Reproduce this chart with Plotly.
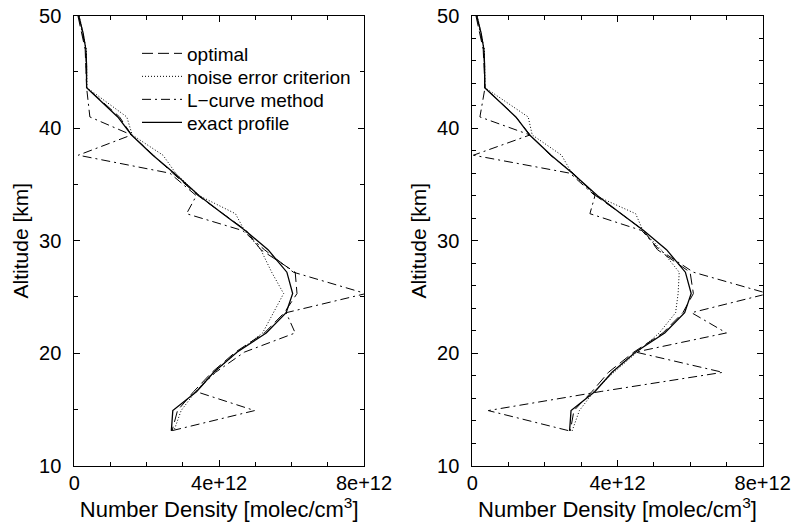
import plotly.graph_objects as go

# Altitude grids [km]
alt_exact = [50, 48.5, 47, 45.5, 43.6, 41.0, 39.4, 37.6, 36.0, 34.0, 32.4, 30.9,
             29.2, 27.2, 25.3, 23.6, 21.8, 20.1, 18.3, 16.6, 14.9, 13.1]
alt_ret = [50, 47, 43.6, 41.0, 39.4, 37.6, 36.0, 34.0, 32.4, 30.9, 29.2, 27.2,
           25.3, 23.6, 21.8, 20.1, 18.3, 16.6, 14.9, 13.1]

# Number density in units of 1e12 molec/cm^3
exact = [0.12, 0.24, 0.32, 0.34, 0.34, 1.20, 1.58, 2.17, 2.76, 3.45, 4.10, 4.72,
         5.35, 5.87, 6.03, 5.85, 5.30, 4.50, 3.85, 3.38, 2.72, 2.68]

# Left panel
opt_L = [0.10, 0.30, 0.34, 1.25, 1.58, 2.18, 2.72, 3.42, 4.10, 4.75, 5.15, 6.10,
         6.15, 5.80, 5.25, 4.45, 3.80, 3.30, 2.85, 2.70]
noise_L = [0.14, 0.33, 0.35, 1.45, 1.60, 2.45, 2.80, 3.45, 4.45, 4.70, 5.15, 5.45,
           5.78, 5.50, 5.20, 4.50, 3.85, 3.35, 2.95, 2.75]
lcurve_L = [0.12, 0.32, 0.34, 0.43, 1.58, 0.11, 2.64, 3.37, 3.10, 4.65, 5.25, 6.05,
            8.05, 5.85, 6.10, 4.70, 3.90, 3.35, 4.98, 2.68]

# Right panel
opt_R = [0.10, 0.30, 0.35, 1.20, 1.59, 2.15, 2.78, 3.40, 4.10, 4.72, 5.10, 6.00,
         6.09, 5.80, 5.25, 4.45, 3.75, 3.30, 2.80, 2.70]
noise_R = [0.14, 0.33, 0.35, 1.54, 1.65, 2.46, 2.74, 3.40, 4.50, 4.70, 5.20, 5.70,
           5.67, 5.60, 5.15, 4.55, 3.90, 3.35, 2.95, 2.75]
lcurve_R = [0.12, 0.32, 0.35, 0.21, 1.59, 0.03, 2.69, 3.38, 3.24, 4.67, 5.15, 6.09,
            8.15, 6.04, 7.00, 4.50, 6.90, 3.55, 0.44, 2.67]

names = ["optimal", "noise error criterion", "L\u2212curve method", "exact profile"]
dashes = ["11px,5px", "1px,2px", "9px,4px,2px,4px", "solid"]
widths = [1, 1, 1, 1.3]
legend_ids = ["legend", "legend2", "legend3", "legend4"]
legend_rows_px = [53.5, 76.5, 99.5, 122.5]

FONT = "Liberation Sans, Arial, Helvetica, sans-serif"
E12 = 1e12
W, H = 792, 523

fig = go.Figure()
panels = [("x", "y", [opt_L, noise_L, lcurve_L], True),
          ("x2", "y2", [opt_R, noise_R, lcurve_R], False)]
for xa, ya, ret, show in panels:
    series = ret + [exact]
    alts = [alt_ret, alt_ret, alt_ret, alt_exact]
    for i in range(4):
        fig.add_trace(go.Scatter(
            x=[v * E12 for v in series[i]], y=alts[i], mode="lines",
            name=names[i], showlegend=show, legend=legend_ids[i],
            xaxis=xa, yaxis=ya,
            line=dict(color="black", width=widths[i], dash=dashes[i]),
        ))

common_x = dict(range=[0, 8e12], tickvals=[0, 4e12, 8e12],
                ticktext=["0", "4e+12", "8e+12"], ticks="inside", ticklen=6,
                tickcolor="black", showline=True, linecolor="black", linewidth=1,
                mirror="allticks", showgrid=False, zeroline=False, automargin=False,
                ticklabeloverflow="allow", ticklabelstandoff=-1,
                tickfont=dict(size=20, color="black", family=FONT),
                title=dict(text="Number Density [molec/cm<sup>3</sup>]",
                           font=dict(size=22, color="black", family=FONT), standoff=2),
                minor=dict(dtick=1e12, ticks="inside", ticklen=4, tickcolor="black"))
common_y = dict(range=[10, 50], tickvals=[10, 20, 30, 40, 50], ticks="inside",
                ticklen=6, tickcolor="black", showline=True, linecolor="black",
                linewidth=1, mirror="allticks", showgrid=False, zeroline=False,
                automargin=False, ticklabeloverflow="allow",
                tickfont=dict(size=20, color="black", family=FONT),
                ticklabelstandoff=8,
                title=dict(text="Altitude [km]",
                           font=dict(size=21, color="black", family=FONT), standoff=4))

legend_common = dict(xanchor="left", yanchor="middle", bgcolor="rgba(0,0,0,0)",
                     borderwidth=0, font=dict(size=19, color="black", family=FONT),
                     itemwidth=40, x=137 / W)

layout_legends = {}
for lid, ypx in zip(legend_ids, legend_rows_px):
    layout_legends[lid] = dict(y=1 - ypx / H, **legend_common)

fig.update_layout(
    width=W, height=H, margin=dict(l=0, r=0, t=0, b=0),
    paper_bgcolor="white", plot_bgcolor="white",
    font=dict(family=FONT, color="black"),
    xaxis=dict(domain=[74.3 / W, 364 / W], anchor="y", **common_x),
    xaxis2=dict(domain=[472.3 / W, 762.7 / W], anchor="y2", **common_x),
    yaxis=dict(domain=[1 - 465.7 / H, 1 - 15.7 / H], anchor="x",
               minor=dict(dtick=5, ticks="inside", ticklen=4, tickcolor="black"),
               **common_y),
    yaxis2=dict(domain=[1 - 465.7 / H, 1 - 15.7 / H], anchor="x2",
                minor=dict(dtick=2, ticks="inside", ticklen=4, tickcolor="black"),
                **common_y),
    **layout_legends,
)

fig.write_html("out.html")
